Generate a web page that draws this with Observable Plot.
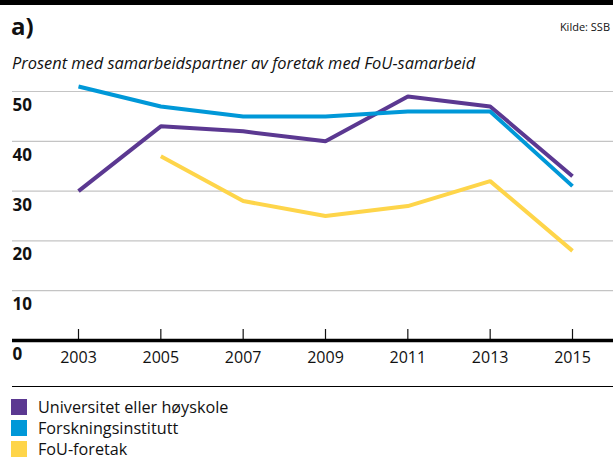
<!DOCTYPE html>
<html>
<head>
<meta charset="utf-8">
<script src="https://cdn.jsdelivr.net/npm/d3@7"></script>
<script src="https://cdn.jsdelivr.net/npm/@observablehq/plot@0.6"></script>
<style>
  html, body { margin: 0; padding: 0; background: #fff; }
  #wrap { position: relative; width: 613px; height: 458px; overflow: hidden; font-family: "Open Sans", sans-serif; color: #111; }
  #topbar { position: absolute; left: 0; top: 0; width: 613px; height: 5px; background: #000; }
  #title { position: absolute; left: 11px; top: 11px; font-size: 24px; font-weight: 700; line-height: 30px; }
  #source { position: absolute; right: 3px; top: 19px; font-size: 11px; line-height: 16px; }
  #subtitle { position: absolute; left: 12px; top: 51px; font-size: 16.4px; font-style: italic; line-height: 24px; }
  #chart { position: absolute; left: 0; top: 78px; }
  #sep { position: absolute; left: 12px; top: 386px; width: 601px; height: 0; border-top: 1.5px solid #000; }
  #legend { position: absolute; left: 11px; top: 396px; }
  .item { display: flex; align-items: center; height: 21px; line-height: 18px; font-size: 16.2px; }
  .sw { width: 16px; height: 16px; margin-right: 11px; }
</style>
</head>
<body>
<div id="wrap">
  <div id="topbar"></div>
  <div id="title">a)</div>
  <div id="source">Kilde: SSB</div>
  <div id="subtitle">Prosent med samarbeidspartner av foretak med FoU-samarbeid</div>
  <div id="chart"></div>
  <div id="sep"></div>
  <div id="legend"></div>
</div>
<script>
const years = [2003, 2005, 2007, 2009, 2011, 2013, 2015];
const seriesNames = ["Universitet eller høyskole", "Forskningsinstitutt", "FoU-foretak"];
const universitet = [30, 43, 42, 40, 49, 47, 33];
const forskning = [51, 47, 45, 45, 46, 46, 31];
const fouForetak = [null, 37, 28, 25, 27, 32, 18];
const colors = ["#5b3891", "#0098d8", "#fed54a"];
const yTicks = [0, 10, 20, 30, 40, 50];
const gridTicks = [10, 20, 30, 40, 50];

const seriesValues = [universitet, forskning, fouForetak];
const data = [];
seriesNames.forEach((name, si) => {
  years.forEach((yr, i) => {
    const v = seriesValues[si][i];
    if (v != null) data.push({series: name, year: yr, value: v});
  });
});

const chart = Plot.plot({
  width: 613,
  height: 300,
  marginLeft: 12,
  marginRight: 0,
  marginTop: 13,
  marginBottom: 38,
  x: {domain: [2003, 2015], range: [78, 572], axis: null},
  y: {domain: [0, 50], axis: null},
  color: {domain: seriesNames, range: colors},
  style: {fontFamily: "Open Sans, sans-serif", background: "transparent"},
  marks: [
    Plot.ruleY(gridTicks, {stroke: "#c4c4c4", strokeWidth: 1.2}),
    Plot.text(yTicks, {y: d => d, frameAnchor: "left", textAnchor: "start", dy: 14, text: d => String(d), fontSize: 17, fontWeight: 700, fill: "#111"}),
    Plot.ruleX(years, {x: d => d, y1: 0, y2: 0, insetTop: -11, stroke: "#111", strokeWidth: 1.2}),
    Plot.text(years, {x: d => d, y: 0, dy: 17, text: d => String(d), fontSize: 16, fill: "#111"}),
    Plot.line(data, {x: "year", y: "value", z: "series", stroke: "series", strokeWidth: 4, strokeLinejoin: "miter", strokeLinecap: "butt", curve: "linear"}),
    Plot.ruleY([0], {stroke: "#000", strokeWidth: 3.5})
  ]
});
document.getElementById("chart").appendChild(chart);

const legend = document.getElementById("legend");
seriesNames.forEach((name, i) => {
  const item = document.createElement("div");
  item.className = "item";
  const sw = document.createElement("div");
  sw.className = "sw";
  sw.style.background = colors[i];
  const label = document.createElement("span");
  label.textContent = name;
  item.appendChild(sw);
  item.appendChild(label);
  legend.appendChild(item);
});
</script>
</body>
</html>
